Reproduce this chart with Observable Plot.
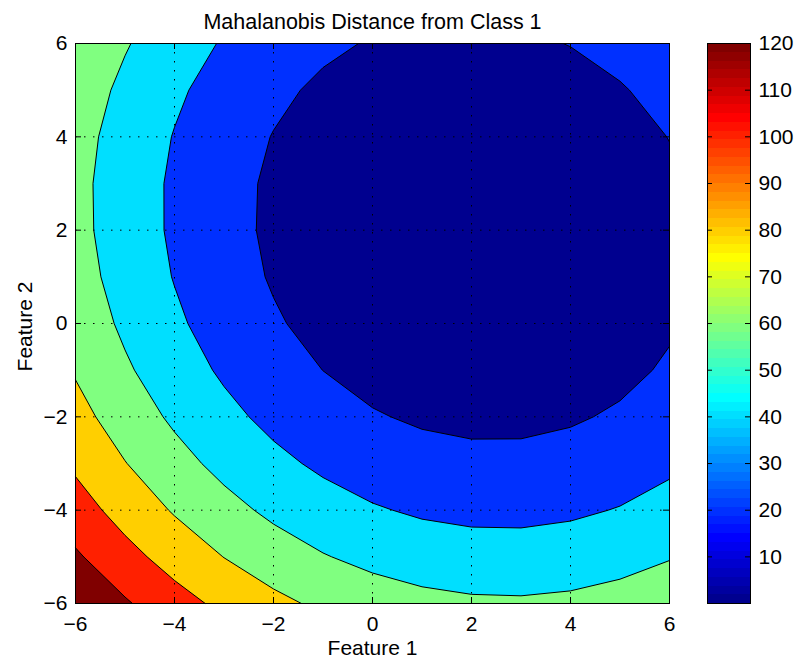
<!DOCTYPE html>
<html>
<head>
<meta charset="utf-8">
<script src="https://cdn.jsdelivr.net/npm/d3@7"></script>
<script src="https://cdn.jsdelivr.net/npm/@observablehq/plot@0.6"></script>
<style>
  html, body { margin: 0; padding: 0; background: #ffffff; }
  #wrap { position: relative; width: 795px; height: 659px; overflow: hidden; background: #ffffff; }
  #wrap > div { position: absolute; top: 0; }
</style>
</head>
<body>
<div id="wrap"><div id="main" style="left:0px"></div><div id="cbar" style="left:700px"></div></div>
<script>
// ---------- data ----------
const xs = [-6, -5, -4, -3, -2, -1, 0, 1, 2, 3, 4, 5, 6];
const ys = [-6, -5, -4, -3, -2, -1, 0, 1, 2, 3, 4, 5, 6];
// one row per y value (y = -6 first), one column per x value
const zRows = [
  [138.7, 122.2, 107.7, 95.3, 84.8, 76.3, 69.8, 65.3, 62.9, 62.4, 63.9, 67.4, 72.9],
  [122.7, 106.4, 92.1, 79.7, 69.4, 61.1, 54.8, 50.5, 48.1, 47.8, 49.5, 53.2, 58.9],
  [108.7, 92.5, 78.3, 66.2, 56.0, 47.9, 41.7, 37.5, 35.4, 35.2, 37.1, 40.9, 46.7],
  [96.6, 80.6, 66.6, 54.6, 44.6, 36.6, 30.6, 26.6, 24.6, 24.6, 26.6, 30.6, 36.6],
  [86.5, 70.6, 56.8, 45.0, 35.1, 27.3, 21.4, 17.6, 15.8, 15.9, 18.1, 22.2, 28.4],
  [78.3, 62.6, 49.0, 37.3, 27.6, 19.9, 14.2, 10.6, 8.9, 9.2, 11.5, 15.8, 22.2],
  [72.1, 56.6, 43.1, 31.6, 22.0, 14.5, 9.0, 5.5, 4.0, 4.4, 6.9, 11.4, 17.9],
  [67.9, 52.5, 39.2, 27.8, 18.4, 11.1, 5.7, 2.4, 1.0, 1.6, 4.3, 8.9, 15.6],
  [65.6, 50.4, 37.2, 26.0, 16.8, 9.6, 4.4, 1.2, 0.01, 0.8, 3.6, 8.4, 15.2],
  [65.3, 50.3, 37.2, 26.2, 17.1, 10.1, 5.1, 2.0, 1.0, 1.9, 4.9, 9.9, 16.8],
  [66.9, 52.1, 39.2, 28.3, 19.4, 12.5, 7.7, 4.8, 3.9, 5.0, 8.1, 13.3, 20.4],
  [70.5, 55.8, 43.1, 32.4, 23.7, 16.9, 12.2, 9.5, 8.8, 10.1, 13.3, 18.6, 25.9],
  [76.1, 61.5, 49.0, 38.4, 29.9, 23.3, 18.7, 16.2, 15.6, 17.1, 20.5, 25.9, 33.4]
];
const levels = [20, 40, 60, 80, 100, 120];
const xTicks = [-6, -4, -2, 0, 2, 4, 6];
const xTickLabels = ["\u22126", "\u22124", "\u22122", "0", "2", "4", "6"];
const yTicks = [-6, -4, -2, 0, 2, 4, 6];
const yTickLabels = ["\u22126", "\u22124", "\u22122", "0", "2", "4", "6"];
const cbTicks = [10, 20, 30, 40, 50, 60, 70, 80, 90, 100, 110, 120];
const cbTickLabels = ["10", "20", "30", "40", "50", "60", "70", "80", "90", "100", "110", "120"];
const titleText = "Mahalanobis Distance from Class 1";
const xLabelText = "Feature 1";
const yLabelText = "Feature 2";

// ---------- MATLAB jet(64) colormap ----------
function jet(k) {
  const n = 16;
  const r = k <= 24 ? 0 : k <= 40 ? (k - 24) / n : k <= 55 ? 1 : (72 - k) / n;
  const g = k <= 8 ? 0 : k <= 24 ? (k - 8) / n : k <= 39 ? 1 : k <= 55 ? (56 - k) / n : 0;
  const b = k <= 8 ? (k + 8) / n : k <= 23 ? 1 : k <= 39 ? (40 - k) / n : 0;
  return d3.rgb(Math.round(r * 255), Math.round(g * 255), Math.round(b * 255)).formatHex();
}

const nx = xs.length, ny = ys.length;
const flat = zRows.flat();
const zmin = d3.min(flat);
const cmax = levels[levels.length - 1];
const colorIndex = v => Math.max(1, Math.min(64, Math.floor((v - zmin) / (cmax - zmin) * 64) + 1));

// ---------- contour polygons (d3.contours, marching squares) ----------
const stepX = (xs[nx - 1] - xs[0]) / (nx - 1);
const stepY = (ys[ny - 1] - ys[0]) / (ny - 1);
const clampX = v => Math.max(xs[0], Math.min(xs[nx - 1], v));
const clampY = v => Math.max(ys[0], Math.min(ys[ny - 1], v));
const contourSets = d3.contours().size([nx, ny]).thresholds(levels)(flat);
const bands = contourSets.map(c => {
  const rows = [];
  c.coordinates.forEach((poly, p) => poly.forEach((ring, r) => {
    const pts = ring.slice();
    const f = pts[0], l = pts[pts.length - 1];
    if (f[0] !== l[0] || f[1] !== l[1]) pts.push(f);
    pts.forEach(([cx, cy]) => rows.push({
      id: p + "-" + r,
      x: clampX(xs[0] + (cx - 0.5) * stepX),
      y: clampY(ys[0] + (cy - 0.5) * stepY)
    }));
  }));
  return {level: c.value, rows};
});

const FONT = "'Liberation Sans', Arial, Helvetica, sans-serif";
const FS = 21;

// ---------- main axes ----------
const W = 700, H = 659;
const mL = 75, mR = 31, mT = 43, mB = 56;
const plotW = W - mL - mR, plotH = H - mT - mB;
const tickLen = 6;

const mainPlot = Plot.plot({
  width: W, height: H,
  marginLeft: mL, marginRight: mR, marginTop: mT, marginBottom: mB,
  style: {fontFamily: FONT, fontSize: FS + "px", background: "transparent", color: "black"},
  x: {domain: [xs[0], xs[nx - 1]], axis: null},
  y: {domain: [ys[0], ys[ny - 1]], axis: null},
  marks: [
    Plot.frame({fill: jet(colorIndex(zmin)), stroke: "none"}),
    ...bands.map(b => Plot.line(b.rows, {
      x: "x", y: "y", z: "id",
      fill: jet(colorIndex(b.level)),
      stroke: "black", strokeWidth: 1, strokeLinejoin: "round"
    })),
    Plot.ruleX(xTicks, {stroke: "black", strokeWidth: 1, strokeDasharray: "1.5,7.5"}),
    Plot.ruleY(yTicks, {stroke: "black", strokeWidth: 1, strokeDasharray: "1.5,7.5"}),
    Plot.ruleX(xTicks, {stroke: "black", strokeWidth: 1, insetTop: plotH - tickLen}),
    Plot.ruleX(xTicks, {stroke: "black", strokeWidth: 1, insetBottom: plotH - tickLen}),
    Plot.ruleY(yTicks, {stroke: "black", strokeWidth: 1, insetRight: plotW - tickLen}),
    Plot.ruleY(yTicks, {stroke: "black", strokeWidth: 1, insetLeft: plotW - tickLen}),
    Plot.frame({stroke: "black", strokeWidth: 1, fill: "none"}),
    Plot.text(xTickLabels, {x: (d, i) => xTicks[i], text: d => d, frameAnchor: "bottom",
      textAnchor: "middle", lineAnchor: "bottom", dy: 27, fontSize: FS, fill: "black"}),
    Plot.text(yTickLabels, {y: (d, i) => yTicks[i], text: d => d, frameAnchor: "left",
      textAnchor: "end", lineAnchor: "middle", dx: -8, fontSize: FS, fill: "black"}),
    Plot.text([titleText], {text: d => d, frameAnchor: "top", textAnchor: "middle", lineAnchor: "bottom", dy: -15,
      fontSize: 21.5, fill: "black"}),
    Plot.text([xLabelText], {text: d => d, frameAnchor: "bottom", textAnchor: "middle", lineAnchor: "bottom", dy: 51,
      fontSize: FS, fill: "black"}),
    Plot.text([yLabelText], {text: d => d, frameAnchor: "left", rotate: -90, textAnchor: "middle",
      lineAnchor: "bottom", dx: -44, dy: 3, fontSize: FS, fill: "black"})
  ]
});
document.getElementById("main").appendChild(mainPlot);

// ---------- colorbar ----------
const CW = 95;
const cL = 7, cR = 45;
const barW = CW - cL - cR;
const bins = d3.range(64).map(k => ({
  lo: zmin + k * (cmax - zmin) / 64,
  hi: zmin + (k + 1) * (cmax - zmin) / 64,
  c: jet(k + 1)
}));
const cbPlot = Plot.plot({
  width: CW, height: H,
  marginLeft: cL, marginRight: cR, marginTop: mT, marginBottom: mB,
  style: {fontFamily: FONT, fontSize: FS + "px", background: "transparent", color: "black", overflow: "visible"},
  x: {type: "band", domain: ["cb"], padding: 0, axis: null},
  y: {domain: [zmin, cmax], axis: null},
  color: {type: "identity"},
  marks: [
    Plot.barY(bins, {x: () => "cb", y1: "lo", y2: "hi", fill: "c", inset: 0, shapeRendering: "crispEdges"}),
    Plot.ruleY(cbTicks, {stroke: "black", strokeWidth: 1, insetRight: barW - 5}),
    Plot.ruleY(cbTicks, {stroke: "black", strokeWidth: 1, insetLeft: barW - 5}),
    Plot.frame({stroke: "black", strokeWidth: 1, fill: "none"}),
    Plot.text(cbTickLabels, {y: (d, i) => cbTicks[i], text: d => d, frameAnchor: "right",
      textAnchor: "start", lineAnchor: "middle", dx: 8, fontSize: FS, fill: "black"})
  ]
});
document.getElementById("cbar").appendChild(cbPlot);
</script>
</body>
</html>
